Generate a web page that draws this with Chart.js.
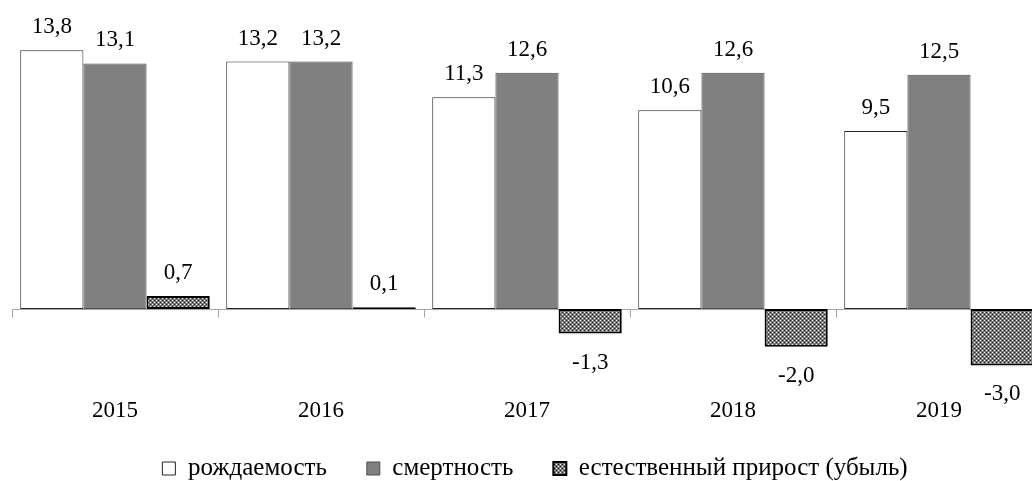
<!DOCTYPE html>
<html>
<head>
<meta charset="utf-8">
<script src="https://cdn.jsdelivr.net/npm/chart.js@4"></script>
<style>
  html, body { margin: 0; padding: 0; background: #fff; overflow: hidden; }
  #wrap { width: 1060px; height: 481px; }
</style>
</head>
<body>
<div id="wrap"><canvas id="chart"></canvas></div>
<script>
const years = ["2015", "2016", "2017", "2018", "2019"];
const rozhdaemost = [13.8, 13.2, 11.3, 10.6, 9.5];
const smertnost = [13.1, 13.2, 12.6, 12.6, 12.5];
const prirost = [0.7, 0.1, -1.3, -2.0, -3.0];

const FONT = "'Liberation Serif', 'Times New Roman', serif";

// штриховка для естественного прироста
function makePattern() {
  const c = document.createElement("canvas");
  c.width = 4; c.height = 4;
  const g = c.getContext("2d");
  g.fillStyle = "#787878";
  g.fillRect(0, 0, 4, 4);
  g.fillStyle = "#ffffff";
  g.fillRect(0, 0, 1, 1);
  g.fillRect(2, 2, 1, 1);
  g.fillStyle = "#222222";
  g.fillRect(2, 0, 1, 1);
  g.fillRect(0, 2, 1, 1);
  return g.createPattern(c, "repeat");
}
const pattern = makePattern();

// нулевая линия и засечки между категориями
const axisLine = {
  id: "axisLine",
  beforeDatasetsDraw(chart) {
    const { ctx, chartArea, scales } = chart;
    const y0 = Math.round(scales.y.getPixelForValue(0)) + 0.5;
    const step = scales.x.getPixelForValue(1) - scales.x.getPixelForValue(0);
    ctx.save();
    ctx.strokeStyle = "#a6a6a6";
    ctx.lineWidth = 1;
    ctx.beginPath();
    ctx.moveTo(chartArea.left, y0);
    ctx.lineTo(chartArea.right, y0);
    for (let i = 0; i <= years.length; i++) {
      const x = Math.round(scales.x.getPixelForValue(i) - step / 2) + 0.5;
      ctx.moveTo(x, y0);
      ctx.lineTo(x, y0 + 8);
    }
    ctx.stroke();
    ctx.restore();
  }
};

// подписи значений
const valueLabels = {
  id: "valueLabels",
  afterDatasetsDraw(chart) {
    const { ctx } = chart;
    ctx.save();
    ctx.font = "23px " + FONT;
    ctx.fillStyle = "#000";
    ctx.textAlign = "center";
    ctx.textBaseline = "alphabetic";
    chart.data.datasets.forEach((ds, di) => {
      const meta = chart.getDatasetMeta(di);
      meta.data.forEach((bar, i) => {
        const v = ds.data[i];
        const txt = v.toFixed(1).replace(".", ",");
        const y = v >= 0 ? bar.y - 17 : bar.y + 35;
        ctx.fillText(txt, bar.x, y);
      });
    });
    ctx.restore();
  }
};

// подвинуть легенду: чуть вправо и вверх
const legendShift = {
  id: "legendShift",
  afterLayout(chart) {
    const lg = chart.legend;
    if (!lg) return;
    lg.left += 8; lg.right += 8;
    lg.top -= 9; lg.bottom -= 9;
  }
};

new Chart(document.getElementById("chart"), {
  type: "bar",
  data: {
    labels: years,
    datasets: [
      {
        label: "рождаемость",
        data: rozhdaemost,
        backgroundColor: "#ffffff",
        borderColor: "#262626",
        borderWidth: 1,
        borderSkipped: false
      },
      {
        label: "смертность",
        data: smertnost,
        backgroundColor: "#808080",
        borderColor: "#4d4d4d",
        borderWidth: 1,
        borderSkipped: false
      },
      {
        label: "естественный прирост (убыль)",
        data: prirost,
        backgroundColor: pattern,
        borderColor: "#000000",
        borderWidth: 2,
        borderSkipped: false
      }
    ]
  },
  options: {
    responsive: true,
    maintainAspectRatio: false,
    animation: false,
    layout: { padding: { left: 12, right: 18, top: 9, bottom: -19 } },
    datasets: { bar: { categoryPercentage: 0.92, barPercentage: 1 } },
    scales: {
      x: {
        grid: { display: false },
        border: { display: false },
        ticks: { color: "#000", font: { family: FONT, size: 23 }, padding: 0 }
      },
      y: { display: false, min: -4.28, max: 16 }
    },
    plugins: {
      legend: {
        position: "bottom",
        labels: {
          color: "#000",
          font: { family: FONT, size: 25 },
          boxWidth: 13,
          boxHeight: 13,
          padding: 40
        }
      },
      tooltip: { enabled: false }
    }
  },
  plugins: [axisLine, valueLabels, legendShift]
});
</script>
</body>
</html>
